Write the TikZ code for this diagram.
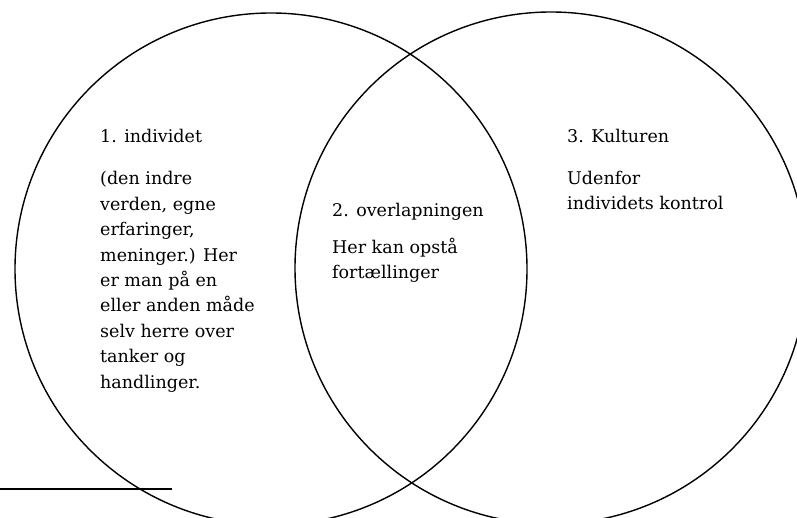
\documentclass[tikz,border=0pt]{standalone}
\usepackage{fontspec}
\setmainfont{DejaVu Serif}
\begin{document}
\begin{tikzpicture}[x=1pt,y=-1pt,
  ring/.style={circle,draw,line width=1.4pt,minimum size=512pt,inner sep=0pt},
  txt/.style={anchor=base west,inner sep=0pt,align=left,font=\fontsize{17.5}{25.4}\selectfont}]
\useasboundingbox (0,0) rectangle (797,518);
\clip (0,0) rectangle (797,518);
\node[ring] (L) at (271,269) {};
\node[ring] (R) at (551,268) {};
\coordinate (a) at (0,489);
\coordinate (b) at (172,489);
\draw[line width=2pt] (a) -- (b);
% multi-line nodes: base anchor is the baseline of the last line
\node[txt] (t1) at (100,143) {1. individet};
\node[txt] (b1) at (100,388) {(den indre\\verden, egne\\erfaringer,\\meninger.) Her\\er man på en\\eller anden måde\\selv herre over\\tanker og\\handlinger.};
\node[txt] (t2) at (332,217) {2. overlapningen};
\node[txt] (b2) at (332,278.5) {Her kan opstå\\fortællinger};
\node[txt] (t3) at (567,143) {3. Kulturen};
\node[txt] (b3) at (567,209.5) {Udenfor\\individets kontrol};
\end{tikzpicture}
\end{document}
